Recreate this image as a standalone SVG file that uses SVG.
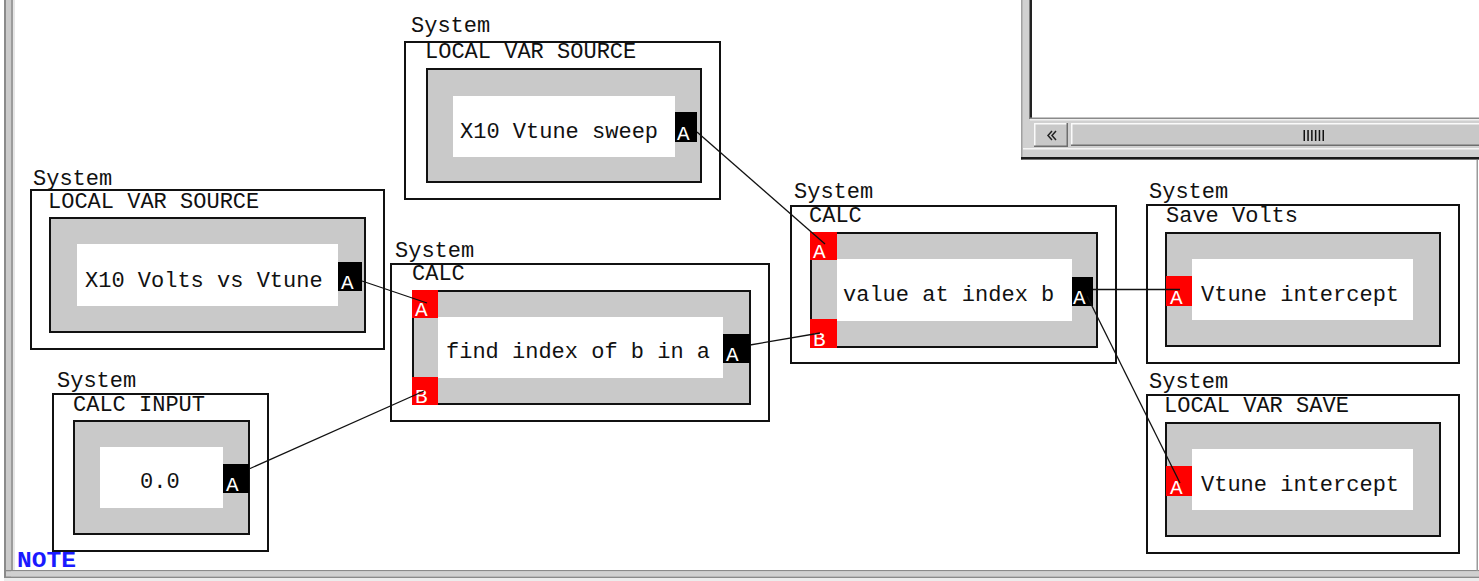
<svg xmlns="http://www.w3.org/2000/svg" width="1479" height="581" viewBox="0 0 1479 581">
  <style>
    text { font-family: "Liberation Mono", "Courier New", monospace; font-size: 22px; fill: #111; }
    .sys { font-size: 22px; }
    .outer { fill: #fff; stroke: #111; stroke-width: 2; }
    .body { fill: #c9c9c9; stroke: #111; stroke-width: 2; }
    .face { fill: #fff; }
    .pin { fill: #ff0000; }
    .pout { fill: #000; }
    .pl { fill: #fff; font-size: 21px; }
    .wire { stroke: #111; stroke-width: 1.3; fill: none; }
    .note { fill: #1a1aff; font-weight: bold; }
  </style>

  <!-- canvas background and sunken frame -->
  <rect x="0" y="0" width="1479" height="581" fill="#fff"/>
  <g id="canvas-frame">
    <rect x="4" y="0" width="2" height="579" fill="#8a8a8a"/>
    <rect x="6" y="0" width="5" height="579" fill="#cacaca"/>
    <rect x="11" y="0" width="2" height="571" fill="#9c9c9c"/>
    <rect x="13" y="0" width="2" height="571" fill="#e6e6e6"/>
    <rect x="4" y="570" width="1475" height="1.5" fill="#8a8a8a"/>
    <rect x="6" y="571.5" width="1473" height="5" fill="#d0d0d0"/>
    <rect x="4" y="576.5" width="1475" height="1.5" fill="#8a8a8a"/>
    <rect x="4" y="578" width="1475" height="3" fill="#ececec"/>
    <rect x="1476.5" y="159" width="1.5" height="412" fill="#9a9a9a"/>
  </g>

  <!-- overlapping window with horizontal scrollbar -->
  <g id="window">
    <rect x="1021" y="0" width="458" height="160" fill="#d0d0d0"/>
    <rect x="1021" y="0" width="1.5" height="160" fill="#a0a0a0"/>
    <rect x="1032" y="0" width="447" height="118" fill="#fff"/>
    <rect x="1029.5" y="0" width="2.5" height="119" fill="#222"/>
    <rect x="1030" y="117.5" width="449" height="1.5" fill="#8a8a8a"/>
    <rect x="1030" y="119" width="449" height="1.5" fill="#f0f0f0"/>
    <!-- left arrow button -->
    <rect x="1034" y="123" width="34" height="24" fill="#c8c8c8"/>
    <rect x="1034" y="123" width="34" height="1.5" fill="#fafafa"/>
    <rect x="1034" y="123" width="1.5" height="24" fill="#fafafa"/>
    <rect x="1034" y="145.5" width="34" height="1.5" fill="#6e6e6e"/>
    <rect x="1066.5" y="123" width="1.5" height="24" fill="#6e6e6e"/>
    <path d="M1052,131 L1048,135.5 L1052,140 M1056,131 L1052,135.5 L1056,140" stroke="#222" stroke-width="1.5" fill="none"/>
    <!-- track / thumb -->
    <rect x="1071" y="123" width="408" height="23" fill="#c8c8c8"/>
    <rect x="1071" y="123" width="408" height="1.5" fill="#fafafa"/>
    <rect x="1071" y="123" width="1.5" height="23" fill="#fafafa"/>
    <rect x="1071" y="144.5" width="408" height="1.5" fill="#6e6e6e"/>
    <g fill="#111">
      <rect x="1303.5" y="130" width="1.5" height="11"/>
      <rect x="1307.3" y="130" width="1.5" height="11"/>
      <rect x="1311.1" y="130" width="1.5" height="11"/>
      <rect x="1314.9" y="130" width="1.5" height="11"/>
      <rect x="1318.7" y="130" width="1.5" height="11"/>
      <rect x="1322.5" y="130" width="1.5" height="11"/>
    </g>
    <rect x="1023" y="148" width="456" height="1.5" fill="#f6f6f6"/>
    <rect x="1021" y="157" width="458" height="2.5" fill="#1a1a1a"/>
  </g>

  <!-- X10 Volts vs Vtune source -->
  <g id="node-volts-source">
    <text class="sys" x="33" y="185">System</text>
    <rect class="outer" x="31" y="190" width="353" height="159"/>
    <text x="48" y="208">LOCAL VAR SOURCE</text>
    <rect class="body" x="50" y="218" width="315" height="114"/>
    <rect class="face" x="77" y="244" width="261" height="62"/>
    <text x="85" y="287">X10 Volts vs Vtune</text>
    <rect class="pout" x="338" y="262" width="24" height="29"/>
    <text class="pl" x="341" y="289">A</text>
  </g>

  <!-- X10 Vtune sweep source -->
  <g id="node-sweep-source">
    <text class="sys" x="411" y="32">System</text>
    <rect class="outer" x="405" y="42" width="315" height="157"/>
    <text x="425" y="58">LOCAL VAR SOURCE</text>
    <rect class="body" x="427" y="69" width="274" height="113"/>
    <rect class="face" x="453" y="96" width="222" height="61"/>
    <text x="460" y="138">X10 Vtune sweep</text>
    <rect class="pout" x="675" y="112" width="22" height="30"/>
    <text class="pl" x="677" y="140">A</text>
  </g>

  <!-- find index of b in a -->
  <g id="node-find-index">
    <text class="sys" x="395" y="257">System</text>
    <rect class="outer" x="391" y="264" width="378" height="157"/>
    <text x="412" y="280">CALC</text>
    <rect class="body" x="413" y="291" width="337" height="113"/>
    <rect class="face" x="438" y="317" width="285" height="61"/>
    <text x="446" y="358">find index of b in a</text>
    <rect class="pin" x="412" y="290" width="26" height="28"/>
    <text class="pl" x="415" y="316">A</text>
    <rect class="pin" x="412" y="377" width="26" height="28"/>
    <text class="pl" x="415" y="403">B</text>
    <rect class="pout" x="723" y="334" width="27" height="29"/>
    <text class="pl" x="726" y="361">A</text>
  </g>

  <!-- value at index b -->
  <g id="node-value-at">
    <text class="sys" x="794" y="198">System</text>
    <rect class="outer" x="791" y="206" width="325" height="157"/>
    <text x="809" y="222">CALC</text>
    <rect class="body" x="811" y="233" width="286" height="114"/>
    <rect class="face" x="837" y="259" width="235" height="62"/>
    <text x="843" y="301">value at index b</text>
    <rect class="pin" x="810" y="232" width="27" height="28"/>
    <text class="pl" x="813" y="258">A</text>
    <rect class="pin" x="810" y="319" width="27" height="29"/>
    <text class="pl" x="813" y="346">B</text>
    <rect class="pout" x="1072" y="277" width="21" height="29"/>
    <text class="pl" x="1073" y="304">A</text>
  </g>

  <!-- Save Volts -->
  <g id="node-save-volts">
    <text class="sys" x="1149" y="198">System</text>
    <rect class="outer" x="1147" y="205" width="312" height="158"/>
    <text x="1166" y="222">Save Volts</text>
    <rect class="body" x="1166" y="233" width="274" height="113"/>
    <rect class="face" x="1192" y="259" width="221" height="61"/>
    <text x="1201" y="301">Vtune intercept</text>
    <rect class="pin" x="1166" y="276" width="26" height="30"/>
    <text class="pl" x="1170" y="304">A</text>
  </g>

  <!-- LOCAL VAR SAVE -->
  <g id="node-var-save">
    <text class="sys" x="1149" y="388">System</text>
    <rect class="outer" x="1147" y="395" width="312" height="158"/>
    <text x="1164" y="412">LOCAL VAR SAVE</text>
    <rect class="body" x="1166" y="423" width="274" height="113"/>
    <rect class="face" x="1192" y="449" width="221" height="61"/>
    <text x="1201" y="491">Vtune intercept</text>
    <rect class="pin" x="1166" y="466" width="26" height="30"/>
    <text class="pl" x="1170" y="494">A</text>
  </g>

  <!-- CALC INPUT 0.0 -->
  <g id="node-calc-input">
    <text class="sys" x="57" y="387">System</text>
    <rect class="outer" x="53" y="394" width="215" height="157"/>
    <text x="73" y="411">CALC INPUT</text>
    <rect class="body" x="74" y="421" width="175" height="113"/>
    <rect class="face" x="100" y="447" width="123" height="61"/>
    <text x="140" y="488">0.0</text>
    <rect class="pout" x="223" y="464" width="26" height="29"/>
    <text class="pl" x="226" y="491">A</text>
  </g>

  <!-- wiring between ports -->
  <g id="connectors">
    <line class="wire" x1="362" y1="281" x2="427" y2="303"/>
    <line class="wire" x1="697" y1="132" x2="825" y2="244"/>
    <line class="wire" x1="249" y1="469" x2="424" y2="391"/>
    <line class="wire" x1="750" y1="345" x2="820" y2="333"/>
    <line class="wire" x1="1093" y1="289.5" x2="1180" y2="289.5"/>
    <line class="wire" x1="1087" y1="296" x2="1180" y2="483"/>
  </g>

  <text id="note" class="note" x="17" y="567" textLength="59" lengthAdjust="spacingAndGlyphs">NOTE</text>
</svg>
